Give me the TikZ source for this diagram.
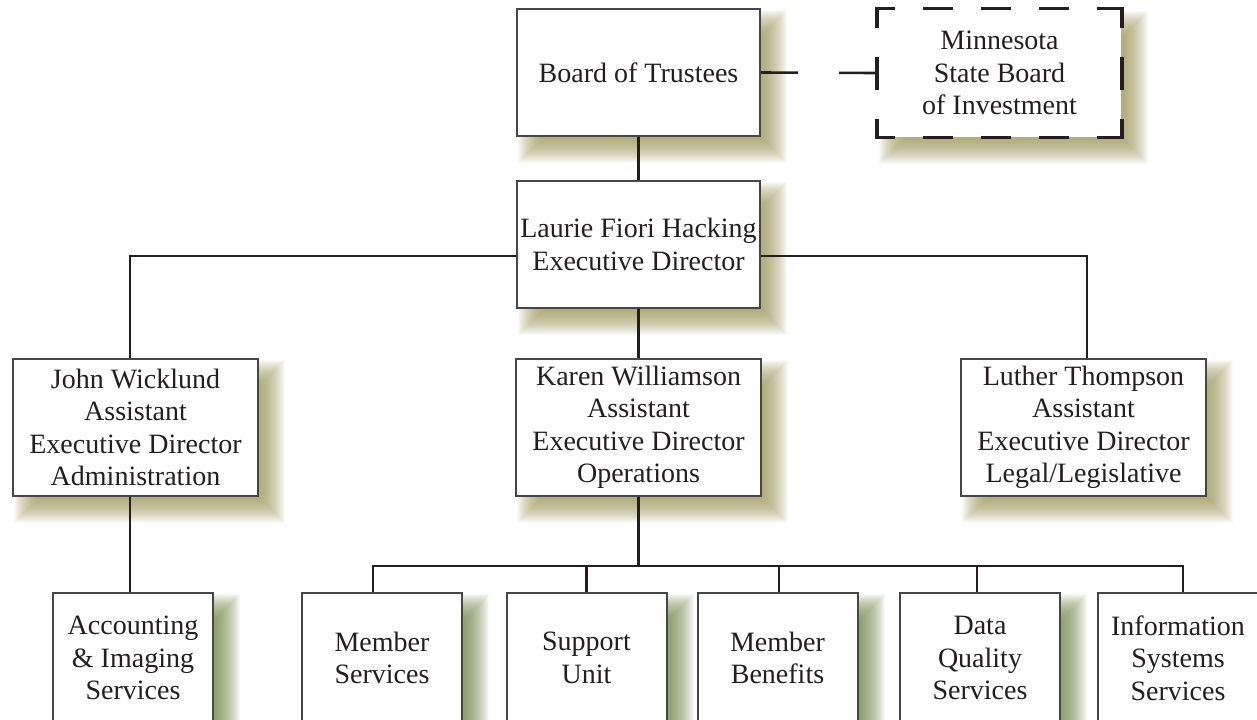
\documentclass[tikz,border=0pt]{standalone}
\usepackage{fontspec}
\setmainfont{Liberation Serif}
\usetikzlibrary{backgrounds}
\definecolor{shadA}{RGB}{150,145,80}
\definecolor{shadB}{RGB}{105,128,62}
\definecolor{ink}{RGB}{35,31,32}
\definecolor{edge}{RGB}{70,70,70}
\tikzset{
 orgbox/.style={draw=edge, line width=1pt, fill=white, align=center, inner sep=0pt, font=\fontsize{14}{16.25}\selectfont, text=ink},
 topbox/.style={orgbox, minimum width=121.5pt, minimum height=63.5pt},
 midbox/.style={orgbox, minimum width=122.5pt, minimum height=68.5pt},
 lowbox/.style={orgbox, minimum width=80pt, minimum height=65pt},
 conn/.style={line width=1.3pt, draw=ink},
 dashside/.style={line width=1.6pt, draw=ink, line cap=rect}
}
\newcommand\softshadow[2]{\foreach \d in {0,...,24}{\fill[#2, opacity=0.05] ([shift={(2+\d,2+\d)}]#1.north west) rectangle ([shift={(26-\d,26-\d)}]#1.south east);}}
\begin{document}
\begin{tikzpicture}[x=0.5pt,y=-0.5pt]
\useasboundingbox (0,0) rectangle (1257,719);
% top
\node[topbox] (bt) at (638.5,72.5) {Board of Trustees};
\node[topbox, draw=none] (msbi) at (999.5,73) {Minnesota\\State Board\\of Investment};
\node[topbox] (laurie) at (638.5,244.5) {Laurie Fiori Hacking\\Executive Director};
% middle
\node[midbox] (john) at (135.5,427.5) {John Wicklund\\Assistant\\Executive Director\\Administration};
\node[midbox] (karen) at (638.5,427.5) {Karen Williamson\\Assistant\\Executive Director\\Operations};
\node[midbox] (luther) at (1083.5,427.5) {Luther Thompson\\Assistant\\Executive Director\\Legal/Legislative};
% bottom
\node[lowbox] (acc) at (133,658) {Accounting\\\& Imaging\\Services};
\node[lowbox] (ms) at (382,658) {Member\\Services};
\node[lowbox] (su) at (586.5,658) {Support\\Unit};
\node[lowbox] (mb) at (777.5,658) {Member\\Benefits};
\node[lowbox] (dq) at (980,658) {Data\\Quality\\Services};
\node[lowbox] (is) at (1178,658) {Information\\Systems\\Services};
% dashed border
\draw[dashside, dash pattern=on 13pt off 16pt, dash phase=5pt] (msbi.north west) -- (msbi.north east);
\draw[dashside, dash pattern=on 13pt off 16pt, dash phase=5pt] (msbi.south west) -- (msbi.south east);
\draw[dashside, dash pattern=on 15pt off 16pt, dash phase=6pt] (msbi.north west) -- (msbi.south west);
\draw[dashside, dash pattern=on 15pt off 16pt, dash phase=6pt] (msbi.north east) -- (msbi.south east);
% connectors
\draw[conn] (bt) -- (laurie);
\draw[conn, dash pattern=on 18.5pt off 20.5pt] (bt.east) -- (msbi.west);
\draw[conn] ([yshift=-5.75pt]laurie.west) -| ([xshift=-2.75pt]john.north);
\draw[conn] ([yshift=-5.75pt]laurie.east) -| ([xshift=1.75pt]luther.north);
\draw[conn] (laurie) -- (karen);
\draw[conn] ([xshift=-2.75pt]john.south) -- ([xshift=-1.5pt]acc.north);
\draw[conn] (karen.south) -- ++(0,69) -| ([xshift=-4.5pt]ms.north);
\draw[conn] (karen.south) -- ++(0,69) -| (su.north);
\draw[conn] (karen.south) -- ++(0,69) -| ([xshift=0.75pt]mb.north);
\draw[conn] (karen.south) -- ++(0,69) -| ([xshift=-1.5pt]dq.north);
\draw[conn] (karen.south) -- ++(0,69) -| ([xshift=2.5pt]is.north);
% shadows
\begin{pgfonlayer}{background}
\softshadow{bt}{shadA}
\softshadow{msbi}{shadA}
\softshadow{laurie}{shadA}
\softshadow{john}{shadA}
\softshadow{karen}{shadA}
\softshadow{luther}{shadA}
\softshadow{acc}{shadB}
\softshadow{ms}{shadB}
\softshadow{su}{shadB}
\softshadow{mb}{shadB}
\softshadow{dq}{shadB}
\softshadow{is}{shadB}
\end{pgfonlayer}
\end{tikzpicture}
\end{document}
